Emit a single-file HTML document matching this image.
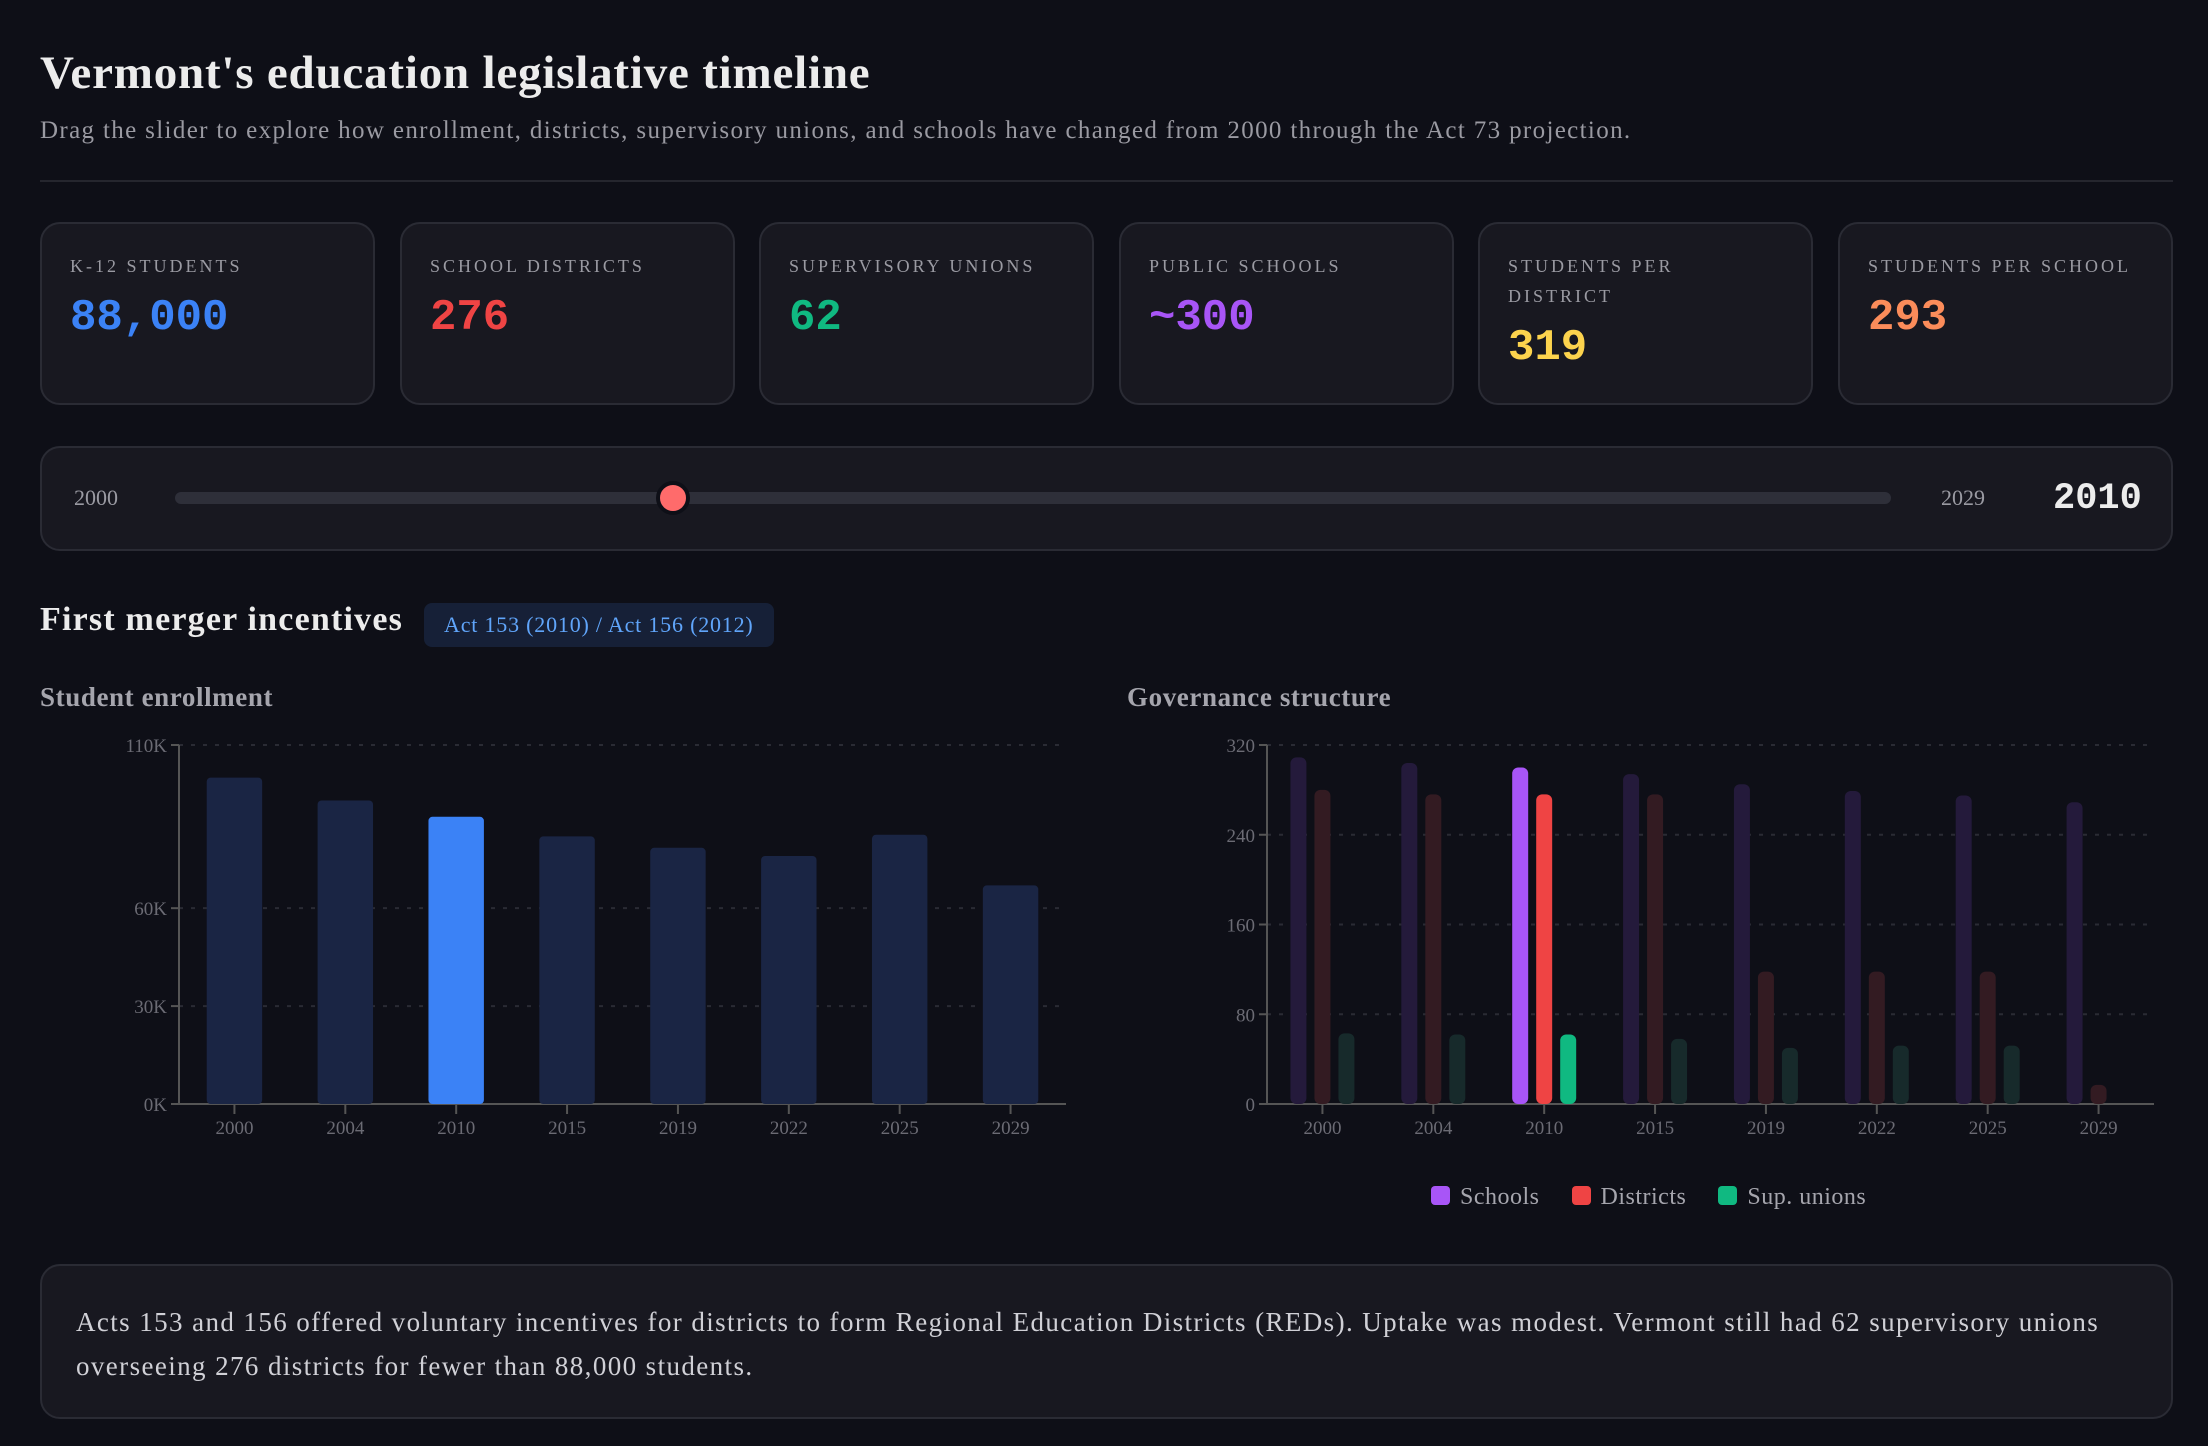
<!DOCTYPE html>
<html><head><meta charset="utf-8">
<style>
*{box-sizing:border-box;margin:0;padding:0}
body{width:2208px;height:1446px;background:#0e0f17;font-family:"Liberation Serif",serif;color:#e5e5e5;position:relative;overflow:hidden}
.abs{position:absolute}
h1{position:absolute;left:40px;top:46px;font-size:47px;letter-spacing:0.8px;font-weight:bold;color:#ececec}
.sub{left:40px;top:117px;font-size:25px;letter-spacing:1.35px;color:#9a9aa2;white-space:nowrap}
.hr{left:40px;top:180px;width:2133px;height:2px;background:#25262e}
.card{position:absolute;top:222px;width:335px;height:183px;background:#181820;border:2px solid #2a2b34;border-radius:20px;padding:27px 28px}
.card .lbl{font-size:18px;letter-spacing:3px;color:#9a9aa2;line-height:30px}
.card .val{font-family:"Liberation Mono",monospace;font-weight:bold;font-size:44px;margin-top:12px}
.slider{left:40px;top:446px;width:2133px;height:105px;background:#181820;border:2px solid #2a2b34;border-radius:20px}
.sec{left:40px;top:601px;font-size:34px;letter-spacing:1.2px;font-weight:bold;color:#ececec}
.badge{left:424px;top:603px;width:350px;height:44px;background:#162037;border-radius:8px;color:#60a5fa;font-size:22px;letter-spacing:0.8px;line-height:44px;padding-left:20px;white-space:nowrap}
.ctitle{font-size:27px;letter-spacing:0.6px;font-weight:bold;color:#a5a5ad;top:682px}
.note{left:40px;top:1264px;width:2133px;height:155px;background:#181820;border:2px solid #2a2b34;border-radius:20px;padding:34px 34px;font-size:27px;letter-spacing:1.4px;line-height:44px;color:#d0d0d6}
</style></head><body>
<h1>Vermont's education legislative timeline</h1>
<div class="abs sub">Drag the slider to explore how enrollment, districts, supervisory unions, and schools have changed from 2000 through the Act 73 projection.</div>
<div class="abs hr"></div>

<div class="card" style="left:40px"><div class="lbl">K-12 STUDENTS</div><div class="val" style="color:#3b82f6">88,000</div></div>
<div class="card" style="left:400px"><div class="lbl">SCHOOL DISTRICTS</div><div class="val" style="color:#ef4444">276</div></div>
<div class="card" style="left:759px"><div class="lbl">SUPERVISORY UNIONS</div><div class="val" style="color:#10b981">62</div></div>
<div class="card" style="left:1119px"><div class="lbl">PUBLIC SCHOOLS</div><div class="val" style="color:#a855f7">~300</div></div>
<div class="card" style="left:1478px"><div class="lbl">STUDENTS PER<br>DISTRICT</div><div class="val" style="color:#fcd34d">319</div></div>
<div class="card" style="left:1838px"><div class="lbl">STUDENTS PER SCHOOL</div><div class="val" style="color:#fb8c5a">293</div></div>

<div class="abs slider"></div>
<div class="abs" style="left:74px;top:485px;font-size:22px;color:#9a9aa2">2000</div>
<div class="abs" style="left:175px;top:492px;width:1716px;height:12px;background:#2e2f39;border-radius:6px"></div>
<div class="abs" style="left:656px;top:481px;width:34px;height:34px;border-radius:50%;background:#ff6b6b;border:4px solid #0e0f17"></div>
<div class="abs" style="left:1941px;top:485px;font-size:22px;color:#9a9aa2">2029</div>
<div class="abs" style="left:2053px;top:478px;font-size:37px;font-family:'Liberation Mono',monospace;font-weight:bold;color:#ececec">2010</div>

<div class="abs sec">First merger incentives</div>
<div class="abs badge">Act 153 (2010) / Act 156 (2012)</div>
<div class="abs ctitle" style="left:40px">Student enrollment</div>
<div class="abs ctitle" style="left:1127px">Governance structure</div>

<svg id="charts" class="abs" style="left:0;top:0" width="2208" height="1446"></svg>

<div class="abs" style="left:1431px;top:1184px;font-size:24px;letter-spacing:0.5px;color:#a5a5ad;display:flex;gap:32px">
<span><i style="display:inline-block;width:19px;height:19px;background:#a855f7;border-radius:4px;margin-right:10px;vertical-align:-1px"></i>Schools</span>
<span><i style="display:inline-block;width:19px;height:19px;background:#ef4444;border-radius:4px;margin-right:10px;vertical-align:-1px"></i>Districts</span>
<span><i style="display:inline-block;width:19px;height:19px;background:#10b981;border-radius:4px;margin-right:10px;vertical-align:-1px"></i>Sup. unions</span>
</div>

<div class="abs note">Acts 153 and 156 offered voluntary incentives for districts to form Regional Education Districts (REDs). Uptake was modest. Vermont still had 62 supervisory unions overseeing 276 districts for fewer than 88,000 students.</div>

<script>
const years = ["2000","2004","2010","2015","2019","2022","2025","2029"];
const enrollment = [100000,93000,88000,82000,78500,76000,82500,67000];
const enrollTicks = [0,30000,60000,110000];
const enrollTickLabels = ["0K","30K","60K","110K"];
const schools = [309,304,300,294,285,279,275,269];
const districts = [280,276,276,276,118,118,118,17];
const unions = [63,62,62,58,50,52,52,0];
const govTicks = [0,80,160,240,320];
const activeYear = "2010";

const svg = document.getElementById('charts');
const NS = 'http://www.w3.org/2000/svg';
function mk(tag, attrs, parent){const e=document.createElementNS(NS,tag);for(const k in attrs)e.setAttribute(k,attrs[k]);(parent||svg).appendChild(e);return e;}

function axes(x0,x1,yTop,yBot,max,ticks,labels,name){
  const y=v=>yBot-(v/max)*(yBot-yTop);
  const g=mk('g',{});
  
  
  ticks.forEach((t,i)=>{
    if(t>0){const gl=mk('line',{x1:x0,x2:x1,y1:y(t),y2:y(t),stroke:'#2a2b34','stroke-width':2,'stroke-dasharray':'4 8'},g);
      
      }
    mk('line',{x1:x0-8,x2:x0,y1:y(t),y2:y(t),stroke:'#555','stroke-width':2},g);
    const tx=mk('text',{x:x0-12,y:y(t)+7,'text-anchor':'end','font-size':19,fill:'#6b6b74','font-family':'Liberation Serif, serif'},g);
    tx.textContent=labels[i];
    
    
  });
  mk('line',{x1:x0,x2:x0,y1:yTop,y2:yBot,stroke:'#555','stroke-width':2},g);
  mk('line',{x1:x0-8,x2:x1,y1:yBot,y2:yBot,stroke:'#555','stroke-width':2},g);
  const bw=(x1-x0)/years.length;
  years.forEach((yr,i)=>{
    const cx=x0+bw*(i+0.5);
    mk('line',{x1:cx,x2:cx,y1:yBot,y2:yBot+10,stroke:'#555','stroke-width':2},g);
    const tx=mk('text',{x:cx,y:yBot+30,'text-anchor':'middle','font-size':19,fill:'#6b6b74','font-family':'Liberation Serif, serif'},g);
    tx.textContent=yr;
    
    
  });
  return {y,bw};
}

(function(){
  const x0=179,x1=1066,yTop=745,yBot=1104,max=110000;
  const {y,bw}=axes(x0,x1,yTop,yBot,max,enrollTicks,enrollTickLabels,'enrollment');
  enrollment.forEach((v,i)=>{
    const w=bw*0.5,cx=x0+bw*(i+0.5);
    const r=mk('rect',{x:cx-w/2,y:y(v),width:w,height:yBot-y(v),rx:4,fill:years[i]===activeYear?'#3b82f6':'#1a2544'});
    
    
  });
})();

(function(){
  const x0=1267,x1=2154,yTop=745,yBot=1104,max=320;
  const {y,bw}=axes(x0,x1,yTop,yBot,max,govTicks,govTicks.map(String),'governance');
  const series=[[schools,'#a855f7','#241a3b','schools'],[districts,'#ef4444','#331b22','districts'],[unions,'#10b981','#172a2b','unions']];
  years.forEach((yr,i)=>{
    const cx=x0+bw*(i+0.5);
    series.forEach((s,j)=>{
      const v=s[0][i]; if(!v) return;
      const bx=cx+(j-1)*24-8;
      const r=mk('rect',{x:bx,y:y(v),width:16,height:yBot-y(v),rx:6,fill:yr===activeYear?s[1]:s[2]});
      
      
    });
  });
})();
</script>
</body></html>
